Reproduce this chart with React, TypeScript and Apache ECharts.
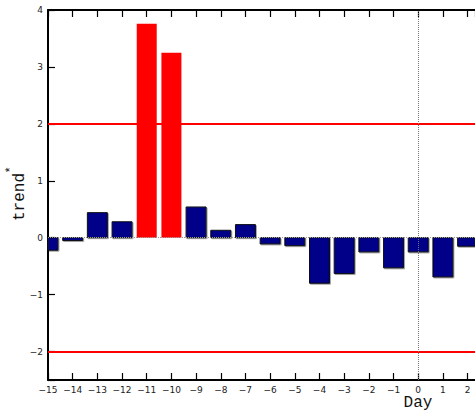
import React, { useEffect, useRef } from 'react';
import * as echarts from 'echarts';

const days = [-15, -14, -13, -12, -11, -10, -9, -8, -7, -6, -5, -4, -3, -2, -1, 0, 1, 2];
const trend = [-0.22, -0.05, 0.44, 0.28, 3.76, 3.25, 0.54, 0.13, 0.23, -0.11, -0.14, -0.80, -0.63, -0.25, -0.53, -0.25, -0.69, -0.15];
const thresholds = [2, -2];
const eventDay = 0;
const xRange = [-15, 2.3];
const yRange = [-2.5, 4];

const fmt = (v: number) => (Math.abs(v - Math.round(v)) < 1e-9 ? String(Math.round(v)).replace('-', '\u2212') : '');

export default function App() {
  const ref = useRef<HTMLDivElement>(null);
  useEffect(() => {
    if (!ref.current) return;
    const chart = echarts.init(ref.current, undefined, { renderer: 'svg' });
    const tickFont = { fontFamily: 'DejaVu Sans', fontSize: 9, color: '#222' };
    chart.setOption({
      animation: false,
      grid: { left: 48, right: 0, top: 10, bottom: 31 },
      xAxis: [
        {
          type: 'value', min: xRange[0], max: xRange[1], interval: 1,
          axisLine: { show: true, onZero: false, lineStyle: { color: '#000', width: 2 } },
          axisTick: { show: true, inside: true, length: 7, lineStyle: { color: '#000', width: 1.2 } },
          axisLabel: { ...tickFont, margin: 5, formatter: fmt, showMaxLabel: false },
          splitLine: { show: false },
        },
        {
          type: 'value', position: 'top', min: xRange[0], max: xRange[1], interval: 1,
          axisLine: { show: true, onZero: false, lineStyle: { color: '#000', width: 2 } },
          axisTick: { show: true, inside: true, length: 7, lineStyle: { color: '#000', width: 1.2 } },
          axisLabel: { show: false },
          splitLine: { show: false },
        },
      ],
      yAxis: {
        type: 'value', min: yRange[0], max: yRange[1], splitNumber: 7,
        axisLine: { show: true, onZero: false, lineStyle: { color: '#000', width: 2 } },
        axisTick: { show: true, inside: true, length: 7, lineStyle: { color: '#000', width: 1.2 } },
        axisLabel: { ...tickFont, margin: 5, formatter: fmt },
        splitLine: { show: false },
      },
      graphic: [
        {
          type: 'text', x: 20, y: 197, rotation: Math.PI / 2,
          style: { text: 'trend', fontFamily: 'Liberation Mono', fontSize: 16, fill: '#111', align: 'center', verticalAlign: 'middle' },
        },
        {
          type: 'text', x: 11, y: 170, rotation: Math.PI / 2,
          style: { text: '*', fontFamily: 'Liberation Mono', fontSize: 12, fill: '#111', align: 'center', verticalAlign: 'middle' },
        },
        {
          type: 'text', x: 418, y: 403,
          style: { text: 'Day', fontFamily: 'Liberation Mono', fontSize: 16, fill: '#111', align: 'center', verticalAlign: 'middle' },
        },
      ],
      series: [
        {
          type: 'line', data: [], z: 1, silent: true,
          markLine: {
            silent: true, symbol: 'none', label: { show: false },
            data: [
              ...thresholds.map((t) => ({ yAxis: t, lineStyle: { color: '#ff0000', width: 2, type: 'solid' } })),
              { yAxis: 0, lineStyle: { color: '#999', width: 1, type: 'dotted' } },
              { xAxis: eventDay, lineStyle: { color: '#777', width: 1, type: 'dotted' } },
            ],
          },
        },
        {
          type: 'custom', z: 3,
          data: days.map((d, i) => [d, trend[i]]),
          encode: { x: 0, y: 1 },
          renderItem: (params: any, api: any) => {
            const xv = api.value(0);
            const yv = api.value(1);
            const p0 = api.coord([xv, 0]);
            const p1 = api.coord([xv, yv]);
            const w = api.size([0.81, 0])[0];
            const cs = params.coordSys;
            const rect = echarts.graphic.clipRectByRect(
              { x: p0[0] - w / 2, y: Math.min(p0[1], p1[1]), width: w, height: Math.abs(p1[1] - p0[1]) },
              { x: cs.x, y: cs.y, width: cs.width, height: cs.height }
            );
            if (!rect) return null;
            const big = yv > thresholds[0];
            return {
              type: 'rect',
              shape: rect,
              style: big
                ? { fill: '#ff0000' }
                : {
                    fill: '#000088', stroke: '#111', lineWidth: 1,
                    shadowColor: 'rgba(0,0,0,0.35)', shadowOffsetX: 1, shadowOffsetY: 1, shadowBlur: 1,
                  },
            };
          },
        },
      ],
    });
    return () => chart.dispose();
  }, []);
  return <div ref={ref} style={{ position: 'absolute', left: 0, top: 0, width: 475, height: 411 }} />;
}
